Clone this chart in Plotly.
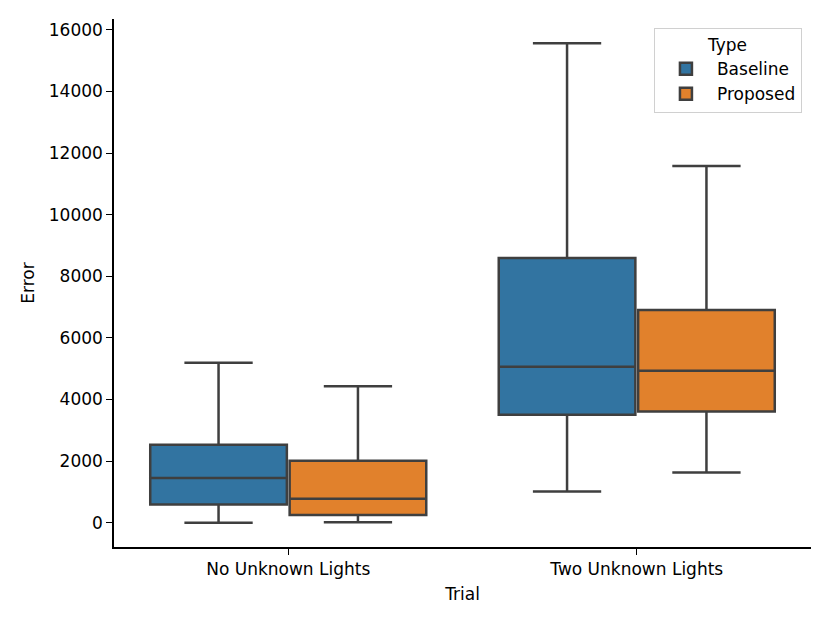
import plotly.graph_objects as go

# values
trials = ["No Unknown Lights", "Two Unknown Lights"]

baseline_low = [0, 1010]
baseline_q1 = [590, 3500]
baseline_med = [1450, 5060]
baseline_q3 = [2530, 8590]
baseline_high = [5190, 15560]

proposed_low = [10, 1630]
proposed_q1 = [250, 3610]
proposed_med = [780, 4930]
proposed_q3 = [2010, 6900]
proposed_high = [4430, 11580]

edge = "#3f3f3f"

fig = go.Figure()

fig.add_trace(go.Box(
    name="Baseline", x=trials,
    lowerfence=baseline_low, q1=baseline_q1, median=baseline_med,
    q3=baseline_q3, upperfence=baseline_high,
    fillcolor="#3274a1", line=dict(color=edge, width=2.5),
    whiskerwidth=0.5, boxpoints=False,
))
fig.add_trace(go.Box(
    name="Proposed", x=trials,
    lowerfence=proposed_low, q1=proposed_q1, median=proposed_med,
    q3=proposed_q3, upperfence=proposed_high,
    fillcolor="#e1812c", line=dict(color=edge, width=2.5),
    whiskerwidth=0.5, boxpoints=False,
))

# page body adds an 8px offset, margins account for it
fig.update_layout(
    width=830, height=623,
    boxmode="group", boxgap=0.2, boxgroupgap=0.02,
    plot_bgcolor="white", paper_bgcolor="white",
    font=dict(family="DejaVu Sans", size=17, color="black"),
    margin=dict(l=106, r=27, t=11, b=84),
    legend=dict(
        title=dict(text="Type", side="top center", font=dict(size=17)),
        font=dict(size=17),
        x=0.987, y=0.983, xanchor="right", yanchor="top",
        bordercolor="#d0d0d0", borderwidth=1, bgcolor="white",
        itemwidth=52, tracegroupgap=2,
    ),
)

fig.update_xaxes(
    title=dict(text="Trial", standoff=10, font=dict(size=17)),
    range=[-0.5, 1.5], showline=True, linecolor="black", linewidth=1.5,
    ticks="outside", ticklen=6, tickcolor="black", showgrid=False,
    tickfont=dict(size=17), automargin=False,
)
fig.update_yaxes(
    title=dict(text="Error", standoff=10, font=dict(size=17)),
    range=[-790, 16350], dtick=2000, tickformat="d",
    showline=True, linecolor="black", linewidth=1.5,
    ticks="outside", ticklen=6, tickcolor="black",
    showgrid=False, zeroline=False,
    tickfont=dict(size=17), automargin=False,
)

fig.write_html("out.html")
